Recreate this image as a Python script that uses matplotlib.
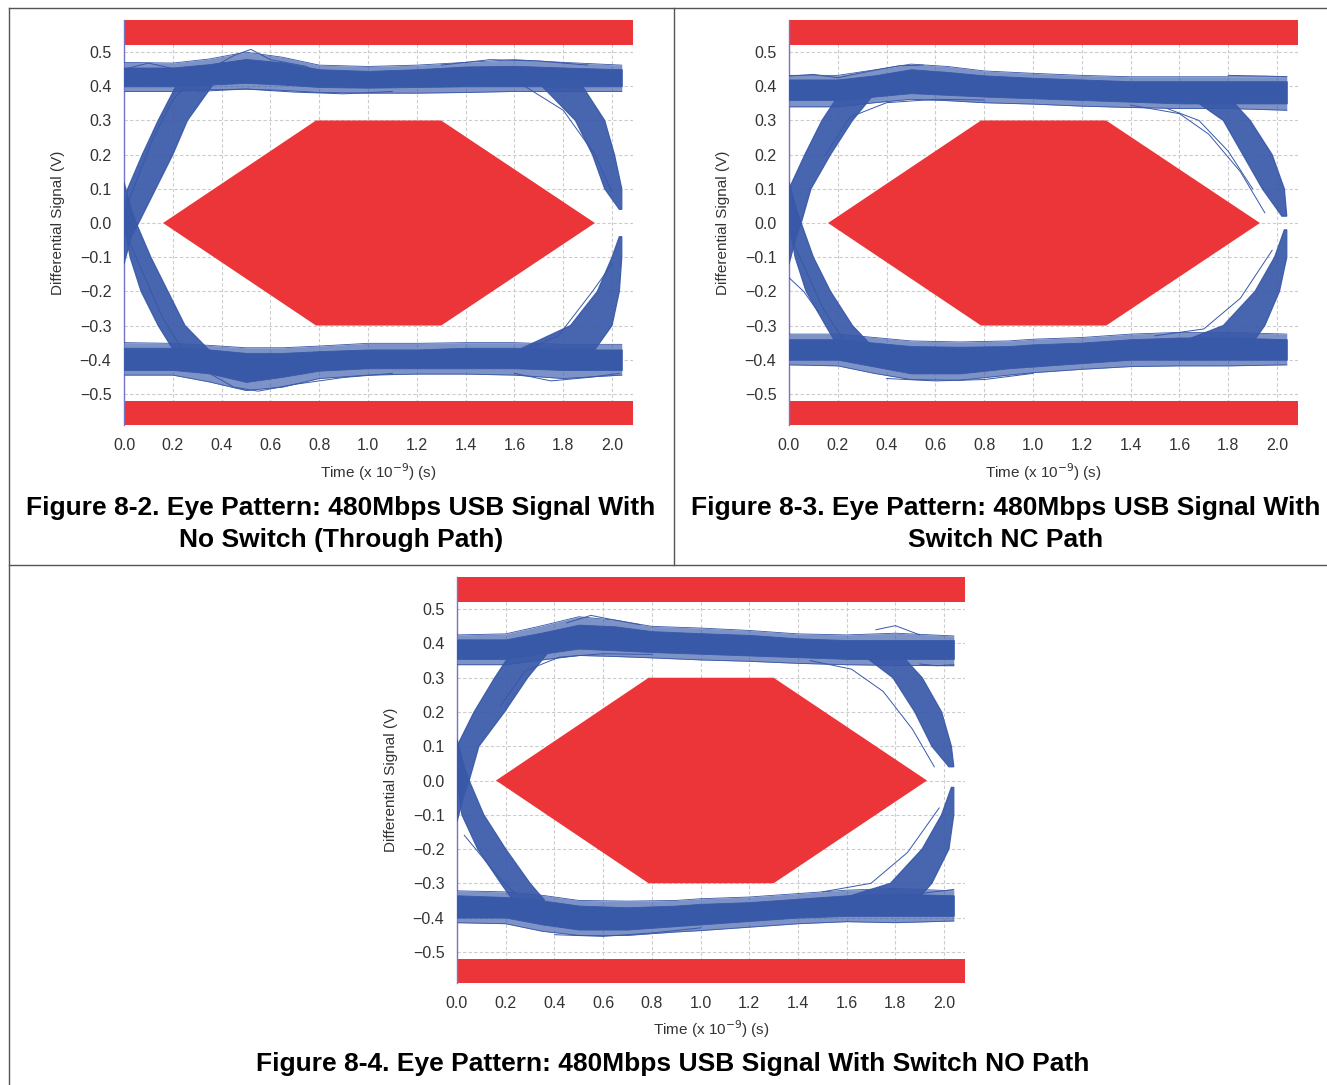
import matplotlib.pyplot as plt
from matplotlib.lines import Line2D

# ---------------------------------------------------------------
# Eye patterns, 480 Mbps USB signal (Figure 8-2 / 8-3 / 8-4)
# ---------------------------------------------------------------
BLUE = '#3858A8'
RED = '#EC3539'
GRID = '#CCCCCC'
INK = '#333333'

T_TICKS = [0.0, 0.2, 0.4, 0.6, 0.8, 1.0, 1.2, 1.4, 1.6, 1.8, 2.0]
V_TICKS = [-0.5, -0.4, -0.3, -0.2, -0.1, 0.0, 0.1, 0.2, 0.3, 0.4, 0.5]
T_LIM = (0.0, 2.086)
V_LIM = (-0.591, 0.594)

# USB eye mask (hexagon) and keep-out bars
MASK_T = [0.16, 0.787, 1.30, 1.93, 1.30, 0.787]
MASK_V = [0.0, 0.30, 0.30, 0.0, -0.30, -0.30]
BAR_V = 0.522

# ---- Figure 8-2 : no switch (through path) --------------------
# bands: (t, low, high)
P1_UPPER = [(0.0, 0.400, 0.455), (0.2, 0.400, 0.455), (0.35, 0.405, 0.465),
            (0.5, 0.410, 0.480), (0.65, 0.405, 0.470), (0.8, 0.398, 0.450),
            (1.0, 0.396, 0.445), (1.2, 0.398, 0.450), (1.4, 0.400, 0.458),
            (1.6, 0.400, 0.460), (1.8, 0.400, 0.455), (2.04, 0.400, 0.450)]
P1_UPPER_FR = [(0.0, 0.385, 0.470), (0.2, 0.385, 0.468), (0.35, 0.390, 0.480),
               (0.5, 0.392, 0.500), (0.65, 0.388, 0.485), (0.8, 0.382, 0.462),
               (1.0, 0.380, 0.458), (1.2, 0.380, 0.462), (1.4, 0.382, 0.470),
               (1.6, 0.385, 0.478), (1.8, 0.385, 0.470), (2.04, 0.385, 0.462)]
P1_LOWER = [(0.0, -0.430, -0.365), (0.2, -0.430, -0.365), (0.35, -0.440, -0.370),
            (0.5, -0.465, -0.380), (0.65, -0.450, -0.380), (0.8, -0.432, -0.375),
            (1.0, -0.425, -0.370), (1.2, -0.425, -0.370), (1.4, -0.425, -0.365),
            (1.6, -0.425, -0.365), (1.8, -0.430, -0.370), (2.04, -0.430, -0.370)]
P1_LOWER_FR = [(0.0, -0.445, -0.350), (0.2, -0.445, -0.352), (0.35, -0.465, -0.358),
               (0.5, -0.490, -0.365), (0.65, -0.480, -0.365), (0.8, -0.455, -0.360),
               (1.0, -0.445, -0.352), (1.2, -0.442, -0.352), (1.4, -0.442, -0.350),
               (1.6, -0.445, -0.350), (1.8, -0.455, -0.355), (2.04, -0.445, -0.355)]
# transition edges: (v, t_left, t_right)
P1_EDGES = [
    [(-0.12, 0.0, 0.0), (-0.04, 0.0, 0.03), (0.0, 0.0, 0.06), (0.1, 0.015, 0.13),
     (0.2, 0.075, 0.20), (0.3, 0.14, 0.26), (0.41, 0.22, 0.37)],
    [(0.12, 0.0, 0.0), (0.04, 0.0, 0.03), (0.0, 0.0, 0.05), (-0.1, 0.025, 0.11),
     (-0.2, 0.07, 0.18), (-0.3, 0.14, 0.25), (-0.38, 0.21, 0.36)],
    [(0.41, 1.70, 1.87), (0.3, 1.85, 1.97), (0.2, 1.92, 2.01), (0.1, 1.97, 2.04),
     (0.04, 2.03, 2.04)],
    [(-0.37, 1.62, 1.93), (-0.3, 1.83, 2.00), (-0.2, 1.94, 2.03), (-0.1, 2.00, 2.04),
     (-0.04, 2.03, 2.04)],
]
P1_STRAYS = [
    [(0.0, 0.45), (0.1, 0.468), (0.2, 0.452), (0.3, 0.43)],
    [(0.35, 0.45), (0.45, 0.49), (0.52, 0.508), (0.6, 0.478), (0.75, 0.458)],
    [(0.3, 0.385), (0.5, 0.392), (0.7, 0.383), (0.9, 0.378), (1.1, 0.385)],
    [(1.3, 0.462), (1.5, 0.478), (1.7, 0.474), (1.9, 0.462)],
    [(0.3, -0.42), (0.45, -0.48), (0.55, -0.492), (0.7, -0.472), (0.9, -0.452), (1.1, -0.44)],
    [(1.6, -0.44), (1.75, -0.462), (1.9, -0.452), (2.03, -0.44)],
    [(1.62, 0.41), (1.80, 0.33), (1.93, 0.20), (2.0, 0.09)],
    [(1.60, -0.385), (1.78, -0.33), (1.92, -0.20), (2.0, -0.12)],
    [(0.0, -0.02), (0.08, -0.15), (0.16, -0.28), (0.24, -0.37)],
    [(0.0, 0.03), (0.06, 0.14), (0.12, 0.25), (0.2, 0.36), (0.28, 0.42)],
]

# ---- Figure 8-3 : switch NC path ------------------------------
P2_UPPER = [(0.0, 0.360, 0.420), (0.2, 0.360, 0.420), (0.35, 0.370, 0.432),
            (0.5, 0.380, 0.450), (0.65, 0.375, 0.442), (0.8, 0.370, 0.432),
            (1.0, 0.365, 0.425), (1.2, 0.360, 0.420), (1.4, 0.355, 0.415),
            (1.6, 0.350, 0.415), (1.8, 0.350, 0.415), (2.04, 0.350, 0.415)]
P2_UPPER_FR = [(0.0, 0.340, 0.432), (0.2, 0.340, 0.432), (0.35, 0.352, 0.448),
               (0.5, 0.362, 0.465), (0.65, 0.358, 0.458), (0.8, 0.352, 0.445),
               (1.0, 0.348, 0.438), (1.2, 0.342, 0.432), (1.4, 0.338, 0.428),
               (1.6, 0.335, 0.428), (1.8, 0.335, 0.428), (2.04, 0.330, 0.428)]
P2_LOWER = [(0.0, -0.400, -0.340), (0.2, -0.400, -0.340), (0.35, -0.420, -0.350),
            (0.5, -0.440, -0.360), (0.7, -0.440, -0.362), (0.9, -0.425, -0.360),
            (1.0, -0.420, -0.355), (1.2, -0.410, -0.350), (1.4, -0.400, -0.340),
            (1.6, -0.400, -0.335), (1.8, -0.400, -0.335), (2.04, -0.400, -0.340)]
P2_LOWER_FR = [(0.0, -0.415, -0.325), (0.2, -0.418, -0.325), (0.35, -0.440, -0.335),
               (0.5, -0.458, -0.345), (0.7, -0.460, -0.348), (0.9, -0.445, -0.345),
               (1.0, -0.438, -0.340), (1.2, -0.428, -0.335), (1.4, -0.420, -0.325),
               (1.6, -0.418, -0.320), (1.8, -0.418, -0.320), (2.04, -0.415, -0.325)]
P2_EDGES = [
    [(-0.12, 0.0, 0.0), (-0.04, 0.0, 0.03), (0.0, 0.0, 0.05), (0.1, 0.0, 0.09),
     (0.2, 0.065, 0.17), (0.3, 0.135, 0.26), (0.37, 0.20, 0.34)],
    [(0.12, 0.0, 0.0), (0.04, 0.0, 0.03), (0.0, 0.0, 0.05), (-0.1, 0.025, 0.10),
     (-0.2, 0.07, 0.17), (-0.3, 0.15, 0.26), (-0.36, 0.20, 0.34)],
    [(0.37, 1.64, 1.80), (0.3, 1.78, 1.89), (0.2, 1.86, 1.98), (0.1, 1.94, 2.03),
     (0.02, 2.02, 2.04)],
    [(-0.35, 1.60, 1.90), (-0.3, 1.78, 1.95), (-0.2, 1.91, 2.01), (-0.1, 1.99, 2.04),
     (-0.02, 2.03, 2.04)],
]
P2_STRAYS = [
    [(0.0, 0.43), (0.1, 0.435), (0.2, 0.425), (0.3, 0.44), (0.45, 0.46), (0.55, 0.462)],
    [(0.15, 0.20), (0.25, 0.31), (0.4, 0.352), (0.6, 0.362), (0.8, 0.36)],
    [(1.40, 0.345), (1.60, 0.32), (1.72, 0.26), (1.85, 0.15), (1.95, 0.03)],
    [(1.55, 0.335), (1.68, 0.30), (1.80, 0.21), (1.90, 0.10)],
    [(1.8, 0.432), (1.95, 0.43), (2.04, 0.428)],
    [(0.4, -0.455), (0.6, -0.462), (0.8, -0.458), (1.0, -0.44)],
    [(0.0, -0.16), (0.06, -0.20), (0.12, -0.26)],
    [(1.5, -0.33), (1.7, -0.31), (1.85, -0.22), (1.98, -0.08)],
    [(0.0, -0.03), (0.07, -0.14), (0.14, -0.25), (0.22, -0.34)],
]

# ---- Figure 8-4 : switch NO path ------------------------------
P3_UPPER = [(0.0, 0.355, 0.412), (0.2, 0.355, 0.412), (0.35, 0.370, 0.432),
            (0.5, 0.385, 0.455), (0.65, 0.380, 0.450), (0.8, 0.375, 0.436),
            (1.0, 0.370, 0.430), (1.2, 0.365, 0.425), (1.4, 0.360, 0.415),
            (1.6, 0.355, 0.410), (1.8, 0.355, 0.410), (2.04, 0.355, 0.410)]
P3_UPPER_FR = [(0.0, 0.338, 0.425), (0.2, 0.338, 0.428), (0.35, 0.352, 0.452),
               (0.5, 0.365, 0.478), (0.65, 0.362, 0.468), (0.8, 0.358, 0.450),
               (1.0, 0.352, 0.445), (1.2, 0.348, 0.438), (1.4, 0.342, 0.428),
               (1.6, 0.338, 0.425), (1.8, 0.336, 0.430), (2.04, 0.335, 0.422)]
P3_LOWER = [(0.0, -0.400, -0.335), (0.2, -0.400, -0.340), (0.35, -0.420, -0.350),
            (0.5, -0.435, -0.365), (0.7, -0.435, -0.370), (0.9, -0.425, -0.365),
            (1.0, -0.420, -0.360), (1.2, -0.410, -0.355), (1.4, -0.400, -0.345),
            (1.6, -0.395, -0.335), (1.8, -0.395, -0.330), (2.04, -0.395, -0.335)]
P3_LOWER_FR = [(0.0, -0.415, -0.322), (0.2, -0.418, -0.325), (0.35, -0.440, -0.335),
               (0.5, -0.452, -0.350), (0.7, -0.452, -0.352), (0.9, -0.442, -0.350),
               (1.0, -0.438, -0.345), (1.2, -0.428, -0.340), (1.4, -0.418, -0.330),
               (1.6, -0.412, -0.320), (1.8, -0.415, -0.315), (2.04, -0.410, -0.322)]
P3_EDGES = [
    [(-0.12, 0.0, 0.0), (-0.04, 0.0, 0.03), (0.0, 0.0, 0.05), (0.1, 0.0, 0.09),
     (0.2, 0.07, 0.195), (0.3, 0.155, 0.29), (0.37, 0.22, 0.37)],
    [(0.12, 0.0, 0.0), (0.04, 0.0, 0.03), (0.0, 0.0, 0.05), (-0.1, 0.02, 0.11),
     (-0.2, 0.085, 0.20), (-0.3, 0.18, 0.30), (-0.35, 0.23, 0.36)],
    [(0.37, 1.66, 1.82), (0.3, 1.79, 1.91), (0.2, 1.88, 1.99), (0.1, 1.95, 2.03),
     (0.04, 2.02, 2.04)],
    [(-0.34, 1.60, 1.90), (-0.3, 1.78, 1.95), (-0.2, 1.91, 2.02), (-0.1, 1.99, 2.04),
     (-0.02, 2.03, 2.04)],
]
P3_STRAYS = [
    [(0.45, 0.46), (0.55, 0.482), (0.62, 0.472), (0.75, 0.455)],
    [(0.18, 0.22), (0.28, 0.32), (0.42, 0.36), (0.6, 0.37), (0.8, 0.368)],
    [(1.45, 0.35), (1.62, 0.325), (1.75, 0.26), (1.87, 0.15), (1.96, 0.04)],
    [(1.72, 0.44), (1.80, 0.452), (1.9, 0.425)],
    [(1.9, 0.34), (1.97, 0.335), (2.04, 0.338)],
    [(0.03, -0.16), (0.1, -0.22), (0.18, -0.29), (0.24, -0.33)],
    [(0.4, -0.45), (0.6, -0.455), (0.8, -0.445), (1.0, -0.43)],
    [(1.5, -0.325), (1.7, -0.30), (1.85, -0.21), (1.98, -0.08)],
    [(1.9, -0.33), (2.04, -0.318)],
]

# panel boxes in pixels: (left, top, right, bottom) and x-label row
PANELS = [
    dict(rect=(124, 20, 633, 425), xlab_y=472, upper=P1_UPPER, upper_fr=P1_UPPER_FR,
         lower=P1_LOWER, lower_fr=P1_LOWER_FR, edges=P1_EDGES, strays=P1_STRAYS),
    dict(rect=(789, 20, 1298, 425), xlab_y=472, upper=P2_UPPER, upper_fr=P2_UPPER_FR,
         lower=P2_LOWER, lower_fr=P2_LOWER_FR, edges=P2_EDGES, strays=P2_STRAYS),
    dict(rect=(457, 577, 965, 983), xlab_y=1029, upper=P3_UPPER, upper_fr=P3_UPPER_FR,
         lower=P3_LOWER, lower_fr=P3_LOWER_FR, edges=P3_EDGES, strays=P3_STRAYS),
]

CAPTIONS = [
    (341, 508, 'Figure 8-2. Eye Pattern: 480Mbps USB Signal With'),
    (341, 540, 'No Switch (Through Path)'),
    (1006, 508, 'Figure 8-3. Eye Pattern: 480Mbps USB Signal With'),
    (1006, 540, 'Switch NC Path'),
    (673, 1064, 'Figure 8-4. Eye Pattern: 480Mbps USB Signal With Switch NO Path'),
]

W_PX, H_PX = 1327, 1085
plt.rcParams['font.family'] = ['Liberation Sans', 'DejaVu Sans']

fig = plt.figure(figsize=(W_PX / 100, H_PX / 100), dpi=100)
fig.patch.set_facecolor('white')


def fx(x):
    return x / W_PX


def fy(y):
    return 1 - y / H_PX


def band(ax, rows, outline=False, **kw):
    t = [r[0] for r in rows]
    lo = [r[1] for r in rows]
    hi = [r[2] for r in rows]
    ax.fill_between(t, lo, hi, **kw)
    if outline:
        # the outermost traces show as thin lines
        ax.plot(t, lo, color=BLUE, lw=0.6, zorder=3)
        ax.plot(t, hi, color=BLUE, lw=0.6, zorder=3)


def edge(ax, rows, **kw):
    xs = [r[1] for r in rows] + [r[2] for r in rows[::-1]]
    ys = [r[0] for r in rows] + [r[0] for r in rows[::-1]]
    ax.fill(xs, ys, **kw)


for p in PANELS:
    x0, y0, x1, y1 = p['rect']
    ax = fig.add_axes([fx(x0), fy(y1), fx(x1 - x0), (y1 - y0) / H_PX])
    ax.set_xlim(*T_LIM)
    ax.set_ylim(*V_LIM)
    ax.set_xticks(T_TICKS)
    ax.set_yticks(V_TICKS)
    ax.set_xticklabels([f'{v:.1f}' for v in T_TICKS])
    ax.set_yticklabels([f'{v:.1f}'.replace('-', '\u2212') for v in V_TICKS])
    ax.tick_params(length=0, labelsize=11.5, labelcolor=INK, pad=9)
    ax.grid(True, color=GRID, lw=0.8, ls=(0, (3, 2)), zorder=0)
    ax.set_axisbelow(True)
    for s in ['top', 'right', 'bottom']:
        ax.spines[s].set_visible(False)
    ax.spines['left'].set_color('#7474C8')
    ax.spines['left'].set_linewidth(1.0)

    # keep-out bars and mask
    ax.axhspan(BAR_V, V_LIM[1], color=RED, lw=0, zorder=1)
    ax.axhspan(V_LIM[0], -BAR_V, color=RED, lw=0, zorder=1)
    ax.fill(MASK_T, MASK_V, color=RED, lw=0, zorder=1)

    # eye traces
    band(ax, p['upper_fr'], outline=True, color=BLUE, alpha=0.65, lw=0, zorder=2)
    band(ax, p['lower_fr'], outline=True, color=BLUE, alpha=0.65, lw=0, zorder=2)
    for e in p['edges']:
        edge(ax, e, color=BLUE, alpha=0.92, lw=0.9, zorder=3)
    band(ax, p['upper'], color=BLUE, lw=0.6, zorder=3)
    band(ax, p['lower'], color=BLUE, lw=0.6, zorder=3)
    for s in p['strays']:
        ax.plot([q[0] for q in s], [q[1] for q in s], color=BLUE, lw=0.7, zorder=3)

    fig.text(fx((x0 + x1) / 2), fy(p['xlab_y']), 'Time (x 10$^{-9}$) (s)',
             ha='center', va='center', fontsize=11, color=INK)
    fig.text(fx(x0 - 66), fy(y0 + 203), 'Differential Signal (V)', rotation=90,
             ha='center', va='center', fontsize=11, color=INK)

for cx, cy, txt in CAPTIONS:
    fig.text(fx(cx), fy(cy), txt, ha='center', va='center', fontsize=19,
             fontweight='bold', color='black')

# table rules
for xs, ys in [((9, 1327), (8, 8)), ((9, 1327), (565, 565)), ((9, 9), (8, 1085)),
               ((674, 674), (8, 565))]:
    fig.add_artist(Line2D([fx(xs[0]), fx(xs[1])], [fy(ys[0]), fy(ys[1])],
                          color='#555555', lw=1.0))

fig.savefig('out.png', dpi=100)
